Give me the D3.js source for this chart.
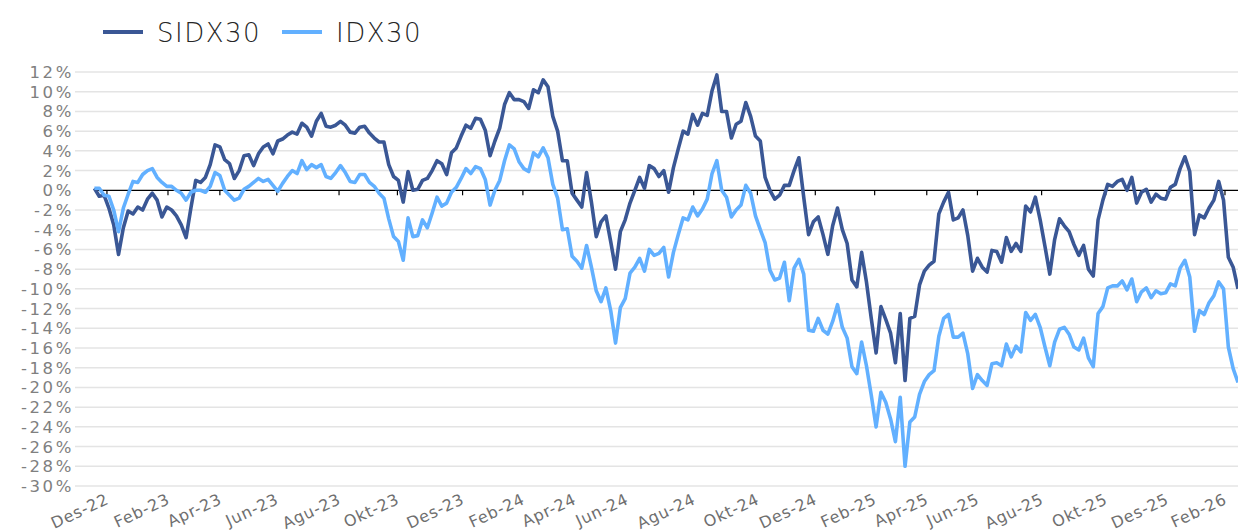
<!DOCTYPE html>
<meta charset="utf-8">
<style>
body { margin: 0; background: #fff; }
svg { display: block; font-family: "DejaVu Sans", sans-serif; }
.grid line { stroke: #e4e4e4; stroke-width: 1.5; }
.ylab text { fill: #808080; font-size: 16.5px; letter-spacing: 2.6px; }
.xlab text { fill: #6f6f6f; font-size: 16px; letter-spacing: 0.8px; }
.legend text { fill: #262626; font-size: 26px; letter-spacing: 1.5px; }
</style>
<body>
<svg id="chart" width="1238" height="532"></svg>
<script src="https://cdnjs.cloudflare.com/ajax/libs/d3/7.8.5/d3.min.js"></script>
<script>
// series names
var names = ["SIDX30", "IDX30"];

// cumulative return (%), one observation every ~3 sessions from mid Nov 2022
var sidx30 = [
  0.2, -0.6, -0.5, -1.8, -3.5, -6.5, -3.8, -2.1, -2.4, -1.7,
  -2.0, -0.9, -0.3, -1.0, -2.7, -1.7, -2.0, -2.6, -3.5, -4.8,
  -1.8, 1.0, 0.8, 1.3, 2.6, 4.6, 4.4, 3.1, 2.7, 1.2,
  2.0, 3.5, 3.6, 2.5, 3.7, 4.4, 4.7, 3.7, 5.0, 5.2,
  5.6, 5.9, 5.7, 6.8, 6.4, 5.5, 7.0, 7.8, 6.5, 6.4,
  6.6, 7.0, 6.6, 5.9, 5.8, 6.4, 6.5, 5.8, 5.3, 4.9,
  4.9, 2.6, 1.4, 1.0, -1.2, 1.9, 0.0, 0.1, 1.0, 1.2,
  2.0, 3.0, 2.7, 1.6, 3.8, 4.3, 5.5, 6.6, 6.3, 7.3,
  7.2, 6.1, 3.5, 5.0, 6.3, 8.7, 9.9, 9.2, 9.2, 9.0,
  8.3, 10.2, 9.9, 11.2, 10.5, 7.5, 6.0, 3.0, 3.0, -0.3,
  -1.0, -1.7, 1.8, -1.2, -4.7, -3.2, -2.6, -5.2, -8.0, -4.2,
  -3.0, -1.3, 0.0, 1.3, 0.2, 2.5, 2.2, 1.4, 2.0, -0.2,
  2.3, 4.2, 6.0, 5.7, 7.7, 6.6, 7.8, 7.6, 10.1, 11.7,
  8.0, 8.0, 5.3, 6.7, 7.0, 8.9, 7.5, 5.5, 5.0, 1.3,
  0.0, -0.9, -0.5, 0.5, 0.5, 2.0, 3.3, -0.7, -4.5, -3.2,
  -2.7, -4.5, -6.5, -3.6, -1.8, -4.0, -5.4, -9.1, -9.8, -6.3,
  -9.3, -13.0, -16.5, -11.8, -13.1, -14.5, -17.5, -12.5, -19.3, -13.0,
  -12.8, -9.6, -8.2, -7.6, -7.2, -2.4, -1.2, -0.2, -3.0, -2.8,
  -2.0, -4.6, -8.2, -6.9, -7.8, -8.3, -6.1, -6.2, -7.3, -4.8,
  -6.2, -5.4, -6.2, -1.6, -2.2, -0.7, -3.0, -5.7, -8.5, -5.0,
  -2.9, -3.6, -4.2, -5.5, -6.6, -5.6, -8.0, -8.7, -3.0, -1.0,
  0.6, 0.4, 0.9, 1.1, 0.0, 1.3, -1.3, -0.2, 0.1, -1.2,
  -0.4, -0.8, -0.9, 0.3, 0.6, 2.2, 3.4, 1.9, -4.5, -2.5,
  -2.8, -1.8, -1.0, 0.9, -1.0, -6.8, -7.8, -10.0
];

var idx30 = [
  0.2, 0.2, -0.5, -0.6, -2.0, -4.2, -1.8, -0.4, 0.9, 0.8,
  1.6, 2.0, 2.2, 1.3, 0.8, 0.4, 0.4, 0.0, -0.3, -1.0,
  -0.2, 0.0, 0.0, -0.2, 0.4, 1.8, 1.5, 0.0, -0.5, -1.0,
  -0.8, 0.1, 0.4, 0.8, 1.2, 0.9, 1.1, 0.5, -0.1, 0.7,
  1.4, 2.0, 1.7, 3.0, 2.1, 2.6, 2.3, 2.6, 1.4, 1.2,
  1.8, 2.5, 1.8, 0.9, 0.8, 1.6, 1.6, 0.8, 0.4, -0.3,
  -0.8, -2.9, -4.7, -5.2, -7.1, -2.8, -4.7, -4.6, -3.0, -3.8,
  -2.3, -0.7, -1.6, -1.3, -0.2, 0.3, 1.2, 2.2, 1.7, 2.4,
  2.2, 1.1, -1.5, 0.0, 1.0, 3.0, 4.6, 4.2, 2.9, 2.2,
  1.9, 3.8, 3.4, 4.3, 3.3, 0.6, -0.8, -4.0, -3.9, -6.7,
  -7.2, -7.9, -5.6, -7.8, -10.2, -11.3, -9.9, -12.2, -15.5, -11.9,
  -11.0, -8.4, -7.8, -6.9, -8.2, -6.0, -6.6, -6.4, -5.8, -8.8,
  -6.3, -4.5, -2.8, -3.0, -1.7, -2.6, -1.9, -0.9, 1.7, 3.0,
  0.0, -0.7, -2.7, -2.0, -1.5, 0.5, -0.3, -2.6, -4.0, -5.3,
  -8.1, -9.1, -8.9, -7.3, -11.2, -7.9, -7.0, -8.5, -14.2, -14.3,
  -13.0, -14.2, -14.6, -13.3, -11.6, -13.9, -15.0, -17.9, -18.6, -15.4,
  -17.8, -20.8, -24.0, -20.5, -21.5, -23.2, -25.5, -21.0, -28.0, -23.5,
  -23.0, -20.7, -19.4, -18.7, -18.3, -14.8, -13.0, -12.6, -14.9, -14.9,
  -14.5, -16.6, -20.1, -18.7, -19.3, -19.8, -17.6, -17.5, -17.8, -15.6,
  -16.9, -15.8, -16.4, -12.4, -13.2, -12.6, -13.9, -15.9, -17.8, -15.4,
  -14.1, -13.9, -14.6, -15.9, -16.2, -15.0, -17.0, -17.9, -12.5, -11.8,
  -9.9, -9.7, -9.7, -9.2, -10.1, -9.0, -11.3, -10.3, -9.9, -10.9,
  -10.2, -10.5, -10.4, -9.5, -9.7, -7.9, -7.1, -8.8, -14.3, -12.2,
  -12.6, -11.4, -10.7, -9.3, -10.0, -15.9, -18.1, -19.5
];

// month labels and where each month starts (in observation units)
var monthLabels = ["Des-22", "Feb-23", "Apr-23", "Jun-23", "Agu-23", "Okt-23", "Des-23",
  "Feb-24", "Apr-24", "Jun-24", "Agu-24", "Okt-24", "Des-24", "Feb-25", "Apr-25",
  "Jun-25", "Agu-25", "Okt-25", "Des-25", "Feb-26"];
var monthStart = [2.6, 15.25, 26.0, 37.8, 50.7, 62.8, 76.3, 88.8, 99.5, 110.3,
  124.2, 137.4, 149.4, 161.7, 172.5, 183.0, 196.3, 209.6, 222.3, 234.3];

var yTicks = d3.range(-30, 13, 2);
var colors = ["#3a5795", "#62b0ff"];

var svg = d3.select("#chart");
var gridLeft = 75, plotLeft = 94.4, plotRight = 1238;

var x = d3.scaleLinear().domain([0, sidx30.length - 1]).range([plotLeft, plotRight]);
var y = d3.scaleLinear().domain([-30, 12]).range([486, 72]);

// horizontal gridlines
svg.append("g").attr("class", "grid")
  .selectAll("line").data(yTicks.filter(function(d) { return d !== 0; }))
  .enter().append("line")
  .attr("x1", gridLeft).attr("x2", plotRight)
  .attr("y1", function(d) { return y(d); }).attr("y2", function(d) { return y(d); });

// y labels
svg.append("g").attr("class", "ylab")
  .selectAll("text").data(yTicks)
  .enter().append("text")
  .attr("x", 74).attr("y", function(d) { return y(d); })
  .attr("dy", "0.36em").attr("text-anchor", "end")
  .text(function(d) { return d + "%"; });

// zero axis with month ticks
var axis = svg.append("g");
axis.append("line")
  .attr("x1", plotLeft).attr("x2", plotRight)
  .attr("y1", y(0)).attr("y2", y(0))
  .attr("stroke", "#000").attr("stroke-width", 1.2);
axis.selectAll(".tick").data(monthStart)
  .enter().append("line").attr("class", "tick")
  .attr("x1", function(d) { return x(d); }).attr("x2", function(d) { return x(d); })
  .attr("y1", y(0)).attr("y2", y(0) + 5)
  .attr("stroke", "#000").attr("stroke-width", 1.2);

// month labels at the bottom
svg.append("g").attr("class", "xlab")
  .selectAll("text").data(monthLabels)
  .enter().append("text")
  .attr("text-anchor", "end")
  .attr("transform", function(d, i) {
    return "translate(" + (x(monthStart[i]) + 3) + ",503) rotate(-25)";
  })
  .text(function(d) { return d; });

// lines
var line = d3.line()
  .x(function(d, i) { return x(i); })
  .y(function(d) { return y(d); });

[sidx30, idx30].forEach(function(s, k) {
  svg.append("path")
    .attr("d", line(s))
    .attr("fill", "none")
    .attr("stroke", colors[k])
    .attr("stroke-width", 3.6)
    .attr("stroke-linejoin", "round");
});

// legend
var legendX = [103, 282];
var legend = svg.append("g").attr("class", "legend");
names.forEach(function(n, k) {
  legend.append("line")
    .attr("x1", legendX[k]).attr("x2", legendX[k] + 40)
    .attr("y1", 32).attr("y2", 32)
    .attr("stroke", colors[k]).attr("stroke-width", 4);
  legend.append("text")
    .attr("x", legendX[k] + 54).attr("y", 42)
    .style("font-weight", 300)
    .text(n);
});
</script>
</body>
